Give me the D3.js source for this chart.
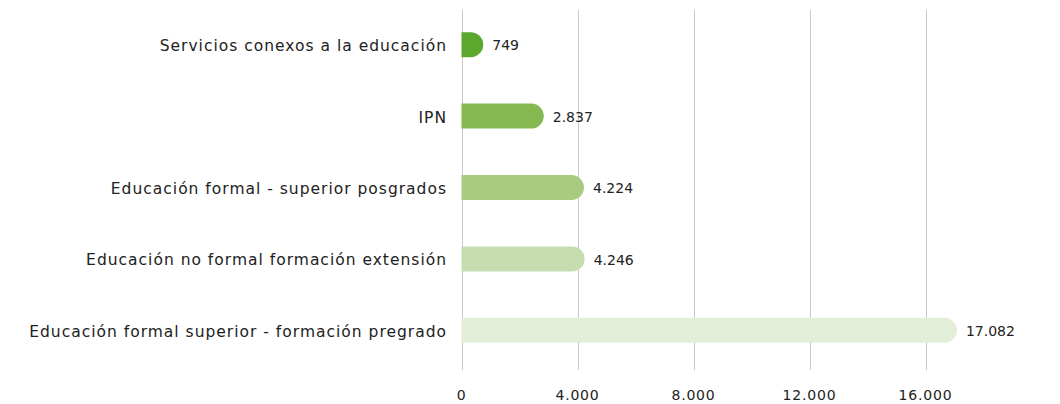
<!DOCTYPE html>
<html><head><meta charset="utf-8">
<script src="https://cdn.jsdelivr.net/npm/d3@7"></script>
<style>body{margin:0;background:#fff;} text{font-family:"DejaVu Sans",sans-serif;}</style>
</head><body><svg id="c" width="1060" height="404"></svg>
<script>
const categories = ["Servicios conexos a la educación","IPN","Educación formal - superior posgrados","Educación no formal formación extensión","Educación formal superior - formación pregrado"];
const values = [749, 2837, 4224, 4246, 17082];
const colors = ["#5ca82e","#86b852","#a8cb80","#c6ddb0","#e3eed9"];
const tickValues = [0, 4000, 8000, 12000, 16000];

(function(){
const svg = d3.select("#c");
const mLeft = 461.5, mTop = 9, mBottom = 366;
const x = d3.scaleLinear().domain([0, 20000]).range([mLeft, mLeft + 580]);
const y = d3.scaleBand().domain(categories).range([mTop, mBottom]).paddingInner(0.65).paddingOuter(0.325);
const fmt = v => d3.format(",")(v).replace(/,/g, ".");

svg.append("g").selectAll("line").data(tickValues).join("line")
  .attr("x1", d => Math.round(x(d)) + 0.5).attr("x2", d => Math.round(x(d)) + 0.5)
  .attr("y1", 10).attr("y2", 370).attr("stroke", "#c8c8c8").attr("stroke-width", 1);

svg.append("g").selectAll("text").data(tickValues).join("text")
  .attr("x", d => x(d)).attr("y", 399.5).attr("text-anchor", "middle")
  .attr("font-size", 14).attr("letter-spacing", 0.8).attr("fill", "#222").text(fmt);

const r = y.bandwidth() / 2;
svg.append("g").selectAll("path").data(values).join("path")
  .attr("fill", (d, i) => colors[i])
  .attr("d", (d, i) => {
    const x0 = x(0), x1 = x(d), y0 = y(categories[i]), h = y.bandwidth();
    const rr = Math.min(r, x1 - x0);
    return `M${x0},${y0}H${x1 - rr}A${rr},${r} 0 0 1 ${x1},${y0 + r}A${rr},${r} 0 0 1 ${x1 - rr},${y0 + h}H${x0}Z`;
  });

svg.append("g").selectAll("text").data(values).join("text")
  .attr("x", d => x(d) + 9).attr("y", (d, i) => y(categories[i]) + y.bandwidth() / 2)
  .attr("dy", "0.4em").attr("font-size", 14).attr("fill", "#222").text(fmt);

svg.append("g").selectAll("text").data(categories).join("text")
  .attr("x", 447).attr("y", d => y(d) + y.bandwidth() / 2)
  .attr("dy", "0.42em").attr("text-anchor", "end").attr("font-size", 15.5).attr("letter-spacing", 1)
  .attr("fill", "#222").text(d => d);
})();
</script></body></html>
